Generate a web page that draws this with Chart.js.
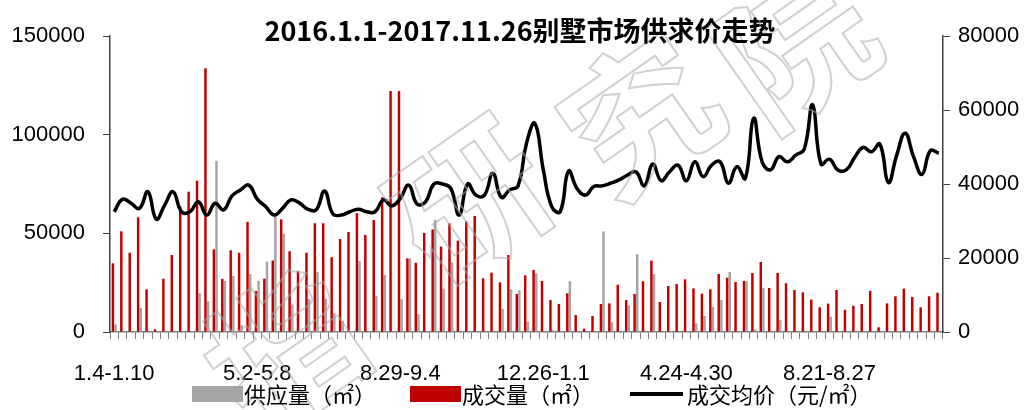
<!DOCTYPE html>
<html>
<head>
<meta charset="utf-8">
<script src="https://cdn.jsdelivr.net/npm/chart.js@4.4.1/dist/chart.umd.min.js"></script>
<style>
  body { margin: 0; background: #fff; }
  #wrap { width: 1032px; height: 410px; position: relative; }
</style>
</head>
<body>
<div id="wrap"><canvas id="combinedChart"></canvas></div>
<script>
// week labels (Mon-Sun), 2016.1.4 - 2017.11.26
const weeks = [
  '1.4-1.10','1.11-1.17','1.18-1.24','1.25-1.31','2.1-2.7','2.8-2.14','2.15-2.21','2.22-2.28','2.29-3.6',
  '3.7-3.13','3.14-3.20','3.21-3.27','3.28-4.3','4.4-4.10','4.11-4.17','4.18-4.24','4.25-5.1',
  '5.2-5.8','5.9-5.15','5.16-5.22','5.23-5.29','5.30-6.5','6.6-6.12','6.13-6.19','6.20-6.26','6.27-7.3',
  '7.4-7.10','7.11-7.17','7.18-7.24','7.25-7.31','8.1-8.7','8.8-8.14','8.15-8.21','8.22-8.28','8.29-9.4',
  '9.5-9.11','9.12-9.18','9.19-9.25','9.26-10.2','10.3-10.9','10.10-10.16','10.17-10.23','10.24-10.30','10.31-11.6',
  '11.7-11.13','11.14-11.20','11.21-11.27','11.28-12.4','12.5-12.11','12.12-12.18','12.19-12.25','12.26-1.1',
  '1.2-1.8','1.9-1.15','1.16-1.22','1.23-1.29','1.30-2.5','2.6-2.12','2.13-2.19','2.20-2.26','2.27-3.5',
  '3.6-3.12','3.13-3.19','3.20-3.26','3.27-4.2','4.3-4.9','4.10-4.16','4.17-4.23','4.24-4.30',
  '5.1-5.7','5.8-5.14','5.15-5.21','5.22-5.28','5.29-6.4','6.5-6.11','6.12-6.18','6.19-6.25','6.26-7.2',
  '7.3-7.9','7.10-7.16','7.17-7.23','7.24-7.30','7.31-8.6','8.7-8.13','8.14-8.20','8.21-8.27','8.28-9.3',
  '9.4-9.10','9.11-9.17','9.18-9.24','9.25-10.1','10.2-10.8','10.9-10.15','10.16-10.22','10.23-10.29','10.30-11.5',
  '11.6-11.12','11.13-11.19','11.20-11.26'
];

// 供应量 (㎡)
const supply = [
  3900, 0, 0, 12200, 0, 0, 0, 0, 0, 0,
  19600, 15600, 86700, 25900, 28400, 3400, 29400, 25900, 35600, 59300,
  49800, 14000, 0, 16700, 30400, 16900, 9500, 5600, 0, 36000,
  0, 18300, 28900, 0, 16700, 37300, 9000, 0, 56800, 22000,
  35300, 0, 0, 0, 0, 0, 11800, 21600, 21100, 5200,
  29700, 0, 1000, 0, 25700, 0, 0, 0, 51000, 4900,
  0, 13500, 39400, 0, 29400, 0, 500, 0, 0, 4400,
  8100, 12700, 16200, 30400, 0, 25700, 1400, 22300, 0, 6100,
  0, 0, 0, 0, 0, 7800, 0, 0, 0, 0,
  0, 0, 0, 0, 0, 0, 0, 0, 0
];

// 成交量 (㎡)
const deal = [
  34800, 51000, 40200, 58100, 21600, 1400, 27000, 39000, 63500, 71100,
  76700, 133600, 41900, 26900, 41400, 40200, 55800, 20800, 27000, 36200,
  57100, 40900, 30800, 40200, 55100, 55100, 37900, 47100, 50700, 60200,
  49200, 56800, 68300, 122100, 122100, 37300, 35100, 50200, 52000, 43300,
  55100, 46300, 56100, 58800, 27200, 30100, 25200, 39000, 19300, 28700,
  31400, 25900, 16200, 14200, 19600, 8600, 1700, 8100, 14200, 14500,
  24000, 16200, 19300, 25700, 36200, 15200, 23300, 24300, 26700, 22100,
  19400, 21600, 29400, 27500, 25300, 25900, 29900, 35500, 22300, 29900,
  24700, 21300, 20100, 16400, 12500, 14400, 21300, 11300, 13300, 14200,
  20800, 2400, 14500, 18100, 22000, 17700, 12500, 18100, 19900
];

// 成交均价 (元/㎡)
const price = [
  32500, 35900, 34800, 33400, 37900, 30500, 34300, 37900, 32500, 32500,
  35200, 31600, 34800, 33000, 36800, 38400, 39700, 35900, 33900, 31600,
  33400, 35700, 34900, 33200, 33000, 38100, 31900, 31600, 32500, 33200,
  32500, 32500, 35700, 34100, 36100, 39700, 34600, 35200, 40000, 40000,
  38800, 31600, 40000, 37000, 37000, 42900, 36400, 38400, 39500, 51000,
  56400, 43800, 33900, 32500, 43500, 38800, 37000, 39300, 39500, 40200,
  41100, 42400, 43300, 39500, 45400, 40900, 43300, 45100, 40900, 46000,
  42000, 45100, 46000, 40200, 44700, 41500, 57800, 46000, 43800, 47400,
  46000, 47800, 49400, 61400, 45400, 46700, 43800, 43800, 47200, 49900,
  48700, 50800, 40400, 47800, 53700, 47400, 42600, 49000, 48300
];

const leftTicks = [0, 50000, 100000, 150000];
const rightTicks = [0, 20000, 40000, 60000, 80000];
const labelEvery = 17;

const titleText = '2016.1.1-2017.11.26别墅市场供求价走势';
const legendItems = [
    { text: '供应量（㎡）', type: 'box', color: '#A5A5A5' },
    { text: '成交量（㎡）', type: 'box', color: '#C00000' },
    { text: '成交均价（元/㎡）', type: 'line', color: '#000000' }
];
// faint outlined watermark across the plot
const watermark = ['指', '研', '究', '院'];

const tickFont = { family: "'Liberation Sans', Arial, sans-serif", size: 22 };

// title, legend and watermark drawn by hand so they sit where the original has them
const decorPlugin = {
    id: 'decor',
    afterDraw(chart) {
        const ctx = chart.ctx;
        ctx.save();

        // watermark
        const spots = [[285, 350], [470, 200], [640, 115], [795, 45]];
        ctx.font = "bold 150px 'Noto Sans CJK SC', sans-serif";
        ctx.textAlign = 'center';
        ctx.textBaseline = 'middle';
        ctx.strokeStyle = 'rgba(170,170,170,0.55)';
        ctx.lineWidth = 2;
        watermark.forEach((ch, i) => {
            ctx.save();
            ctx.translate(spots[i][0], spots[i][1]);
            ctx.rotate(-35 * Math.PI / 180);
            ctx.strokeText(ch, 0, 0);
            ctx.restore();
        });

        ctx.fillStyle = '#000';
        ctx.font = "bold 27px 'Noto Sans CJK SC', sans-serif";
        ctx.fillText(titleText, 520, 31);

        ctx.font = "22px 'Noto Sans CJK SC', sans-serif";
        ctx.textAlign = 'left';
        const pos = [192, 410, 630];
        legendItems.forEach((item, i) => {
            const x = pos[i];
            if (item.type === 'box') {
                ctx.fillStyle = item.color;
                ctx.fillRect(x, 386, 51, 16);
            } else {
                ctx.strokeStyle = item.color;
                ctx.lineWidth = 4;
                ctx.beginPath();
                ctx.moveTo(x, 394);
                ctx.lineTo(x + 53, 394);
                ctx.stroke();
            }
            ctx.fillStyle = '#000';
            ctx.fillText(item.text, x + (item.type === 'box' ? 52 : 57), 395);
        });
        ctx.restore();
    }
};

window.myChart = new Chart(document.getElementById('combinedChart').getContext('2d'), {
    type: 'bar',
    data: {
        labels: weeks,
        datasets: [
            {
                type: 'line',
                label: '成交均价（元/㎡）',
                data: price,
                yAxisID: 'y1',
                borderColor: '#000',
                borderWidth: 3.5,
                pointRadius: 0,
                tension: 0.45,
                fill: false,
                order: 0
            },
            {
                label: '供应量（㎡）',
                data: supply,
                yAxisID: 'y',
                backgroundColor: '#A5A5A5',
                categoryPercentage: 0.62,
                barPercentage: 0.95,
                order: 2
            },
            {
                label: '成交量（㎡）',
                data: deal,
                yAxisID: 'y',
                backgroundColor: '#C00000',
                categoryPercentage: 0.62,
                barPercentage: 0.95,
                order: 1
            }
        ]
    },
    options: {
        responsive: true,
        maintainAspectRatio: false,
        animation: false,
        layout: { padding: { top: 36, left: 0, right: 0, bottom: 0 } },
        plugins: {
            legend: { display: false },
            title: { display: false },
            tooltip: { enabled: false }
        },
        scales: {
            x: {
                offset: true,
                grid: {
                    offset: true,
                    drawOnChartArea: false,
                    drawTicks: true,
                    tickLength: 7,
                    color: '#7f7f7f'
                },
                border: { color: '#7f7f7f', width: 1.5 },
                ticks: {
                    autoSkip: false,
                    maxRotation: 0,
                    minRotation: 0,
                    padding: 22,
                    color: '#000',
                    font: tickFont,
                    callback: function (value, index) {
                        return index % labelEvery === 0 ? weeks[index] : '';
                    }
                },
                afterFit: function (scale) { scale.height = 78; }
            },
            y: {
                position: 'left',
                min: 0,
                max: 150000,
                afterBuildTicks: function (scale) { scale.ticks = leftTicks.map(v => ({ value: v })); },
                grid: { drawOnChartArea: false, tickLength: 7, color: '#404040' },
                border: { color: '#404040', width: 1.5 },
                ticks: {
                    padding: 18, color: '#000', font: tickFont,
                    callback: function (value) { return String(value); }
                },
                afterFit: function (scale) { scale.width = 110; }
            },
            y1: {
                position: 'right',
                min: 0,
                max: 80000,
                afterBuildTicks: function (scale) { scale.ticks = rightTicks.map(v => ({ value: v })); },
                grid: { drawOnChartArea: false, tickLength: 7, color: '#404040' },
                border: { color: '#404040', width: 1.5 },
                ticks: {
                    padding: 8, color: '#000', font: tickFont,
                    callback: function (value) { return String(value); }
                },
                afterFit: function (scale) { scale.width = 89; }
            }
        }
    },
    plugins: [decorPlugin]
});
</script>
</body>
</html>
